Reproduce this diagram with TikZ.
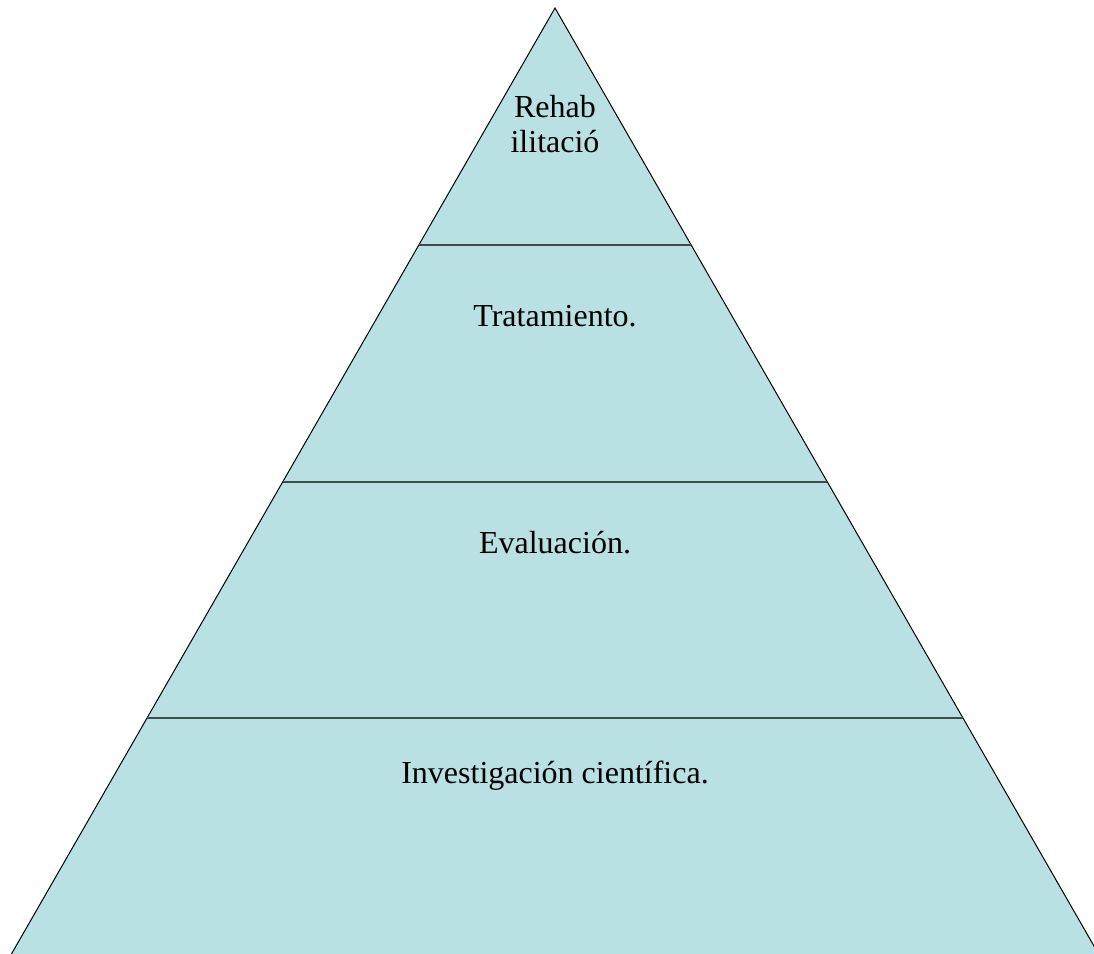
\documentclass[tikz,border=0pt]{standalone}
\usepackage{fontspec}
\setmainfont{Liberation Serif}
\definecolor{pyrfill}{RGB}{185,224,227}
\definecolor{pyrline}{RGB}{62,76,76}
\tikzset{
  level/.style = {align=center, inner sep=0pt, text centered,
    font=\fontsize{24}{26.5}\selectfont},% text of one level
  divider/.style = {draw=pyrline, line width=1.5pt}% line between levels
}
\begin{document}
\begin{tikzpicture}[x=0.75pt,y=-0.75pt]
\useasboundingbox (0,0) rectangle (1094,953);
\clip (0,0) rectangle (1094,953);
\coordinate (apex) at (555,8);
\coordinate (bl) at ({555-0.5746*952},960);
\coordinate (br) at ({555+0.5746*952},960);
% the pyramid
\draw[fill=pyrfill, line width=0.75pt] (apex) -- (bl) -- (br) -- cycle;
% dividers
\foreach \yy/\nm in {245/a, 482/b, 718/c}{
  \coordinate (\nm l) at ({555-0.5746*(\yy-8)},\yy);
  \coordinate (\nm r) at ({555+0.5746*(\yy-8)},\yy);
  \draw[divider] (\nm l) -- (\nm r);
}
% levels
\node [level] (rehab) at (555,124) {Rehab\\ilitació};
\node [level, anchor=base] (trat) at (555,326) {Tratamiento.};
\node [level, anchor=base] (eval) at (555,553) {Evaluación.};
\node [level, anchor=base] (inv) at (555,783) {Investigación científica.};
\end{tikzpicture}
\end{document}
